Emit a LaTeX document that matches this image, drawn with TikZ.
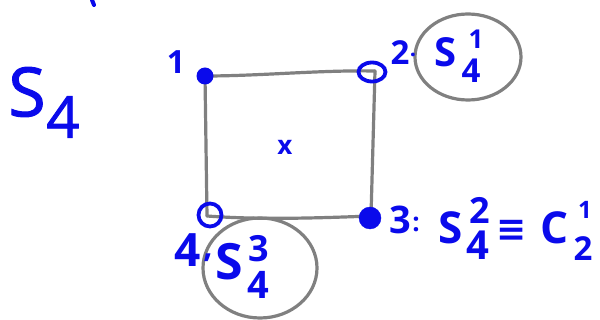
\documentclass[tikz,border=0pt]{standalone}
\usepackage{fontspec}
\setmainfont{Open Sans}
\newfontfamily\dvfont{DejaVu Sans}
\newfontfamily\medfont[FakeBold=1.5]{Open Sans}
\usetikzlibrary{shapes.geometric}
\definecolor{ink}{RGB}{10,10,235}
\definecolor{pen}{RGB}{128,128,128}
\newcommand{\fsz}[1]{\fontsize{#1}{#1}\selectfont}
\newcommand{\fszb}[1]{\fontsize{#1}{#1}\selectfont\bfseries}
\begin{document}
\begin{tikzpicture}[x=1pt,y=-1pt,
  lbl/.style={text=ink,inner sep=0pt,font=\fszb{30}},
  gline/.style={draw=pen,line width=3.2pt,line cap=round,line join=round},
  bline/.style={draw=ink,line width=4pt,line cap=round,line join=round}]
\useasboundingbox (0,0) rectangle (600,320);
% square corners
\coordinate (p1) at (205,76);
\coordinate (p2) at (375,71);
\coordinate (p3) at (371,216);
\coordinate (p4) at (207,216);
\draw[gline] (p1) .. controls (260,76) and (320,70) .. (p2);
\draw[gline] (p2) -- (p3);
\draw[gline] (p3) .. controls (320,218) and (260,220) .. (p4);
\draw[gline] (p4) -- (p1);
% grey circles
\draw[gline] (468,57) ellipse [x radius=53pt, y radius=43pt];
\draw[gline] (260,268) ellipse [x radius=57pt, y radius=50pt];
% corner markers
\node[circle,fill=ink,minimum size=17pt,inner sep=0pt] (m1) at (p1) {};
\node[ellipse,draw=ink,line width=3.8pt,minimum width=27pt,minimum height=19pt,inner sep=0pt] (m2) at (372,72) {};
\node[circle,fill=ink,draw=ink,minimum size=22pt,inner sep=0pt] (m3) at (370,218) {};
\node[circle,draw=ink,line width=3.8pt,minimum size=23pt,inner sep=0pt] (m4) at (210,215) {};
% centre mark
\node[lbl,font=\fszb{26}] (ctr) at (285,147) {x};
% top blob
\draw[bline] (92,0) -- (94,5);
% big S4
\node[lbl,font=\medfont\fsz{68}] (bigS) at (27,92) {S};
\node[lbl,font=\medfont\fsz{58}] (big4) at (63,117) {4};
% labels
\node[lbl,font=\fszb{32}] (l1) at (176,62) {1};
\node[lbl,font=\fszb{33}] (l2) at (400,53) {2};
\node[lbl,font=\fszb{22}] (l2d) at (413,55) {.};
\node[lbl,font=\fszb{40}] (s1S) at (446,52) {S};
\node[lbl,font=\fszb{26}] (s1u) at (476,39) {1};
\node[lbl,font=\fszb{33}] (s1d) at (471,71) {4};
% corner 4
\node[lbl,font=\fszb{46}] (l4) at (188,250) {4};
\node[lbl,font=\fszb{32}] (l4c) at (208,258) {,};
\node[lbl,font=\fszb{50}] (s3S) at (229,262) {S};
\node[lbl,font=\fszb{36}] (s3u) at (259,249) {3};
\node[lbl,font=\fszb{38}] (s3d) at (258,285) {4};
% corner 3
\node[lbl,font=\fszb{38}] (l3) at (400,220) {3};
\node[lbl,font=\fszb{26}] (l3c) at (416,224) {:};
\node[lbl,font=\fszb{44}] (s2S) at (451,228) {S};
\node[lbl,font=\fszb{36}] (s2u) at (480,210) {2};
\node[lbl,font=\fszb{40}] (s2d) at (478,245) {4};
\node[lbl,font=\dvfont\fszb{36}] (eq) at (512,231) {≡};
\node[lbl,font=\fszb{44}] (cC) at (555,228) {C};
\node[lbl,font=\fszb{24}] (cu) at (585,210) {1};
\node[lbl,font=\fszb{33}] (cd) at (583,249) {2};
\end{tikzpicture}
\end{document}
